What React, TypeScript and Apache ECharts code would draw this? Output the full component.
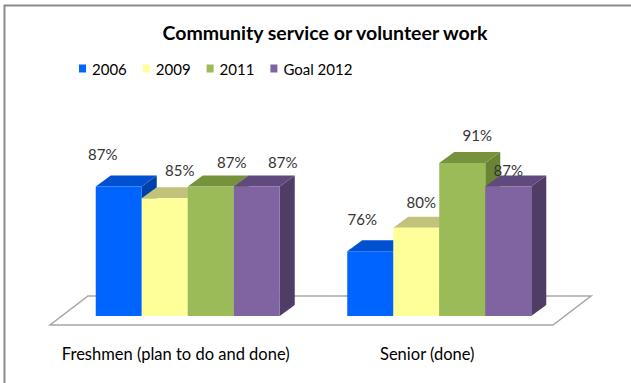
import React, { useEffect, useRef } from "react";
import * as echarts from "echarts";

const categories = ["Freshmen (plan to do and done)", "Senior (done)"];
const seriesNames = ["2006", "2009", "2011", "Goal 2012"];
const values2006 = [87, 76];
const values2009 = [85, 80];
const values2011 = [87, 91];
const valuesGoal2012 = [87, 87];
const allValues = [values2006, values2009, values2011, valuesGoal2012];

const Y_MIN = 65;
const Y_MAX = 100;

// colours: [front, top, side]
const palette = [
  ["#0064FF", "#0050D2", "#0040AA"],
  ["#FFFF99", "#C2C27A", "#A8A866"],
  ["#9BBB59", "#76923C", "#6A8436"],
  ["#8064A2", "#60497C", "#4F3D66"],
];

// label offsets (px) relative to each bar's front-top centre: [series][category]
const labelOffsets = [
  [[-16, -33], [-8, -32]],
  [[15, -28], [5, -26]],
  [[21, -25], [15, -28]],
  [[26, -25], [0, -17]],
];

const BAR_FRAC = 46 / 251.5;
const PLANE_DX = 12;
const PLANE_DY = -9;
const DEPTH_DX = 15;
const DEPTH_DY = -11;
const FLOOR_DX = 38;
const FLOOR_DY = -29;
const FONT = "Lato, 'Open Sans', sans-serif";

export default function App() {
  const ref = useRef<HTMLDivElement>(null);
  useEffect(() => {
    if (!ref.current) return;
    const chart = echarts.init(ref.current, null, { renderer: "svg" });

    const barSeries = allValues.map((vals, si) => ({
      type: "custom",
      name: seriesNames[si],
      itemStyle: { color: palette[si][0] },
      data: vals.map((v, ci) => [ci, v]),
      encode: { x: 0, y: 1 },
      renderItem: (params: any, api: any) => {
        const cat = api.value(0);
        const val = api.value(1);
        const base = api.coord([cat, Y_MIN]);
        const top = api.coord([cat, val]);
        const bandW = api.size([1, 0])[0];
        const bw = bandW * BAR_FRAC;
        const x0 = base[0] + PLANE_DX - 2 * bw + si * bw;
        const x1 = x0 + bw;
        const yb = base[1] + PLANE_DY;
        const yt = top[1] + PLANE_DY;
        const dx = DEPTH_DX;
        const dy = DEPTH_DY;
        const off = labelOffsets[si][cat];
        const [front, topc, side] = palette[si];
        return {
          type: "group",
          children: [
            {
              type: "polygon",
              z2: si * 10 + 1,
              shape: { points: [[x1, yt], [x1 + dx, yt + dy], [x1 + dx, yb + dy], [x1, yb]] },
              style: { fill: side },
            },
            {
              type: "polygon",
              z2: si * 10 + 2,
              shape: { points: [[x0, yt], [x0 + dx, yt + dy], [x1 + dx, yt + dy], [x1, yt]] },
              style: { fill: topc },
            },
            {
              type: "polygon",
              z2: si * 10 + 3,
              shape: { points: [[x0, yt], [x1, yt], [x1, yb], [x0, yb]] },
              style: { fill: front },
            },
            {
              type: "text",
              z2: 1000,
              x: (x0 + x1) / 2 + off[0],
              y: yt + off[1],
              style: {
                text: val + "%",
                align: "center",
                verticalAlign: "middle",
                font: "15px " + FONT,
                fill: "#333333",
              },
            },
          ],
        };
      },
    }));

    const floorSeries = {
      type: "custom",
      name: "floor",
      z: 1,
      silent: true,
      data: [[0, Y_MIN]],
      encode: { x: 0, y: 1 },
      renderItem: (params: any, api: any) => {
        const cs = params.coordSys;
        const xl = cs.x;
        const xr = cs.x + cs.width;
        const yf = cs.y + cs.height;
        return {
          type: "polygon",
          shape: {
            points: [
              [xl, yf],
              [xr, yf],
              [xr + FLOOR_DX, yf + FLOOR_DY],
              [xl + FLOOR_DX, yf + FLOOR_DY],
            ],
          },
          style: { fill: "#ffffff", stroke: "#A6A6A6", lineWidth: 1.5 },
        };
      },
    };

    chart.setOption({
      animation: false,
      backgroundColor: "#ffffff",
      title: {
        text: "Community service or volunteer work",
        left: 320,
        textAlign: "center",
        top: 17,
        textStyle: { fontFamily: FONT, fontSize: 19.5, fontWeight: "bold", color: "#000000" },
      },
      legend: {
        data: seriesNames,
        left: 74,
        top: 56,
        icon: "rect",
        itemWidth: 7,
        itemHeight: 8,
        itemGap: 16,
        textStyle: { fontFamily: FONT, fontSize: 15, color: "#000000", padding: [0, 0, 0, 1] },
      },
      graphic: [
        {
          type: "rect",
          silent: true,
          shape: { x: 4.5, y: 5.5, width: 700, height: 500 },
          style: { fill: "none", stroke: "#8C8C8C", lineWidth: 2 },
        },
      ],
      grid: { left: 50, right: 78, top: 119, bottom: 58 },
      xAxis: {
        type: "category",
        data: categories,
        axisLine: { show: false },
        axisTick: { show: false },
        splitLine: { show: false },
        axisLabel: { interval: 0, margin: 20, fontFamily: FONT, fontSize: 16.5, color: "#000000" },
      },
      yAxis: {
        type: "value",
        min: Y_MIN,
        max: Y_MAX,
        show: false,
        splitLine: { show: false },
      },
      series: [floorSeries, ...barSeries],
    });
    return () => chart.dispose();
  }, []);
  return (
    <div
      ref={ref}
      style={{ position: "fixed", left: 0, top: 0, width: 631, height: 383 }}
    />
  );
}
